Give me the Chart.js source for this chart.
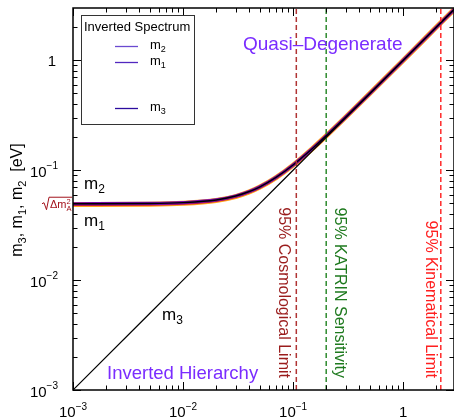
<!DOCTYPE html>
<html>
<head>
<meta charset="utf-8">
<script src="https://cdn.jsdelivr.net/npm/chart.js@4.4.0/dist/chart.umd.min.js"></script>
<style>
  html, body { margin: 0; padding: 0; background: #fff; overflow: hidden; }
  #massChart { display: block; }
</style>
</head>
<body>
<canvas id="massChart" width="454" height="420"></canvas>
<script>
// lightest mass m3 [eV] along the x axis
const lightestMass = [0.001, 0.005, 0.01, 0.02, 0.03, 0.04, 0.05, 0.07, 0.1, 0.15, 0.2, 0.3, 0.5, 1, 2, 2.9];
const m2Values = [0.0496, 0.0499, 0.0508, 0.0537, 0.0583, 0.0641, 0.0708, 0.0862, 0.1118, 0.158, 0.206, 0.304, 0.502, 1.0, 2.0, 2.9];
const m1Values = [0.0488, 0.0491, 0.0500, 0.0530, 0.0576, 0.0635, 0.0703, 0.0857, 0.1114, 0.1578, 0.2058, 0.3039, 0.5019, 1.0, 2.0, 2.9];
const m3Values = [0.001, 0.005, 0.01, 0.02, 0.03, 0.04, 0.05, 0.07, 0.1, 0.15, 0.2, 0.3, 0.5, 1, 2, 2.9];

// vertical limits [eV]
const limitNames = ['95% Cosmological Limit', '95% KATRIN Sensitivity', '95% Kinematical Limit'];
const limitValues = [0.107, 0.2, 2.2];

// axes
const xRange = [0.001, 2.9];
const yRange = [0.001, 3];
const decadeTicks = [0.001, 0.01, 0.1, 1];
const decadeExponents = ['\u22123', '\u22122', '\u22121', ''];

const FONT = '"Liberation Sans", Arial, Helvetica, sans-serif';
const limitColors = ['#b03434', '#2f8a2f', '#ff2a2a'];
const limitTextColors = ['#9a1c1c', '#1f7a1f', '#ff2020'];
const limitTextOffset = [-13, 13, -10];
const purple = '#7a2cff';

function points(xs, ys) {
    return xs.map((x, i) => ({ x: x, y: ys[i] }));
}

function limitLine(i) {
    return {
        label: limitNames[i],
        data: [{ x: limitValues[i], y: yRange[0] }, { x: limitValues[i], y: yRange[1] }],
        borderColor: limitColors[i],
        borderWidth: 1.5,
        borderDash: [5, 3],
        pointRadius: 0,
        order: 5
    };
}

function minorTicks(lo, hi) {
    const out = [];
    for (let d = -4; d <= 1; d++) {
        for (let k = 2; k <= 9; k++) {
            const v = k * Math.pow(10, d);
            if (v > lo && v < hi) out.push(v);
        }
    }
    return out;
}

// text with a sub- or superscript part
function drawScripted(ctx, base, script, x, y, size, scriptSize, shift, align) {
    ctx.font = size + 'px ' + FONT;
    const wb = ctx.measureText(base).width;
    ctx.font = scriptSize + 'px ' + FONT;
    const ws = ctx.measureText(script).width;
    let start = x;
    if (align === 'center') start = x - (wb + ws) / 2;
    if (align === 'right') start = x - (wb + ws);
    ctx.textAlign = 'left';
    ctx.textBaseline = 'alphabetic';
    ctx.font = size + 'px ' + FONT;
    ctx.fillText(base, start, y);
    ctx.font = scriptSize + 'px ' + FONT;
    ctx.fillText(script, start + wb, y + shift);
    return wb + ws;
}

const decorations = {
    id: 'decorations',
    afterDraw(chart) {
        const ctx = chart.ctx;
        const a = chart.chartArea;
        const xs = chart.scales.x;
        const ys = chart.scales.y;
        ctx.save();

        // frame
        ctx.strokeStyle = '#000';
        ctx.lineWidth = 1.5;
        ctx.strokeRect(a.left, a.top, a.right - a.left, a.bottom - a.top);

        // inward ticks on all sides
        ctx.lineWidth = 1;
        const tick = (v, len, horizontal) => {
            if (horizontal) {
                const px = Math.round(xs.getPixelForValue(v)) + 0.5;
                ctx.beginPath();
                ctx.moveTo(px, a.bottom); ctx.lineTo(px, a.bottom - len);
                ctx.moveTo(px, a.top); ctx.lineTo(px, a.top + len);
                ctx.stroke();
            } else {
                const py = Math.round(ys.getPixelForValue(v)) + 0.5;
                ctx.beginPath();
                ctx.moveTo(a.left, py); ctx.lineTo(a.left + len, py);
                ctx.moveTo(a.right, py); ctx.lineTo(a.right - len, py);
                ctx.stroke();
            }
        };
        decadeTicks.forEach(v => { tick(v, 8, true); tick(v, 8, false); });
        minorTicks(xRange[0], xRange[1]).forEach(v => tick(v, 4.5, true));
        minorTicks(yRange[0], yRange[1]).forEach(v => tick(v, 4.5, false));

        // tick labels
        ctx.fillStyle = '#000';
        decadeTicks.forEach((v, i) => {
            const px = xs.getPixelForValue(v);
            const py = ys.getPixelForValue(v);
            const exp = decadeExponents[i];
            if (exp) {
                drawScripted(ctx, '10', exp, px, a.bottom + 27, 15, 10, -7, 'center');
                drawScripted(ctx, '10', exp, 58, py + 7, 15, 10, -8, 'right');
            } else {
                drawScripted(ctx, '1', '', px, a.bottom + 27, 15, 10, 0, 'center');
                drawScripted(ctx, '1', '', 56, py + 6, 15, 10, 0, 'right');
            }
        });

        // y axis title
        ctx.save();
        ctx.translate(22, 200);
        ctx.rotate(-Math.PI / 2);
        ctx.font = '16px ' + FONT;
        let parts = [['m', '3', ', '], ['m', '1', ', '], ['m', '2', '  [eV]']];
        let total = 0;
        parts.forEach(p => {
            ctx.font = '16px ' + FONT; total += ctx.measureText(p[0] + p[2]).width;
            ctx.font = '11px ' + FONT; total += ctx.measureText(p[1]).width;
        });
        let cx = -total / 2;
        parts.forEach(p => {
            cx += drawScripted(ctx, p[0], p[1], cx, 0, 16, 11, 4, 'left');
            ctx.font = '16px ' + FONT;
            ctx.fillText(p[2], cx, 0);
            cx += ctx.measureText(p[2]).width;
        });
        ctx.restore();

        // sqrt(dm^2_A) marker at the plateau
        const yPlateau = ys.getPixelForValue(m2Values[0]);
        ctx.fillStyle = '#a3121c';
        ctx.strokeStyle = '#a3121c';
        ctx.lineWidth = 1;
        ctx.beginPath();
        ctx.moveTo(42, yPlateau);
        ctx.lineTo(44, yPlateau - 1);
        ctx.lineTo(46.5, yPlateau + 6);
        ctx.lineTo(49, yPlateau - 6.5);
        ctx.lineTo(72, yPlateau - 6.5);
        ctx.stroke();
        ctx.font = '11px ' + FONT;
        ctx.textAlign = 'left';
        ctx.fillText('\u0394m', 50, yPlateau + 4.5);
        const wdm = ctx.measureText('\u0394m').width;
        ctx.font = '7.5px ' + FONT;
        ctx.fillText('2', 50 + wdm, yPlateau + 0.5);
        ctx.fillText('A', 50 + wdm, yPlateau + 7.5);

        // curve labels
        ctx.fillStyle = '#000';
        drawScripted(ctx, 'm', '2', 84, 189, 17, 12, 4, 'left');
        drawScripted(ctx, 'm', '1', 84, 226, 17, 12, 4, 'left');
        drawScripted(ctx, 'm', '3', 162, 320, 17, 12, 4, 'left');

        // region labels
        ctx.fillStyle = purple;
        ctx.font = '19px ' + FONT;
        ctx.textAlign = 'left';
        ctx.fillText('Quasi\u2013Degenerate', 243, 50);
        ctx.font = '18.5px ' + FONT;
        ctx.fillText('Inverted Hierarchy', 107, 379);

        // limit labels, rotated
        limitNames.forEach((name, i) => {
            const px = xs.getPixelForValue(limitValues[i]) + limitTextOffset[i];
            ctx.save();
            ctx.translate(px, 378);
            ctx.rotate(Math.PI / 2);
            ctx.fillStyle = limitTextColors[i];
            ctx.font = '16px ' + FONT;
            ctx.textAlign = 'right';
            ctx.textBaseline = 'middle';
            ctx.fillText(name, 0, 0);
            ctx.restore();
        });

        // legend box
        ctx.fillStyle = '#fff';
        ctx.fillRect(81, 15, 113, 109);
        ctx.strokeStyle = '#333';
        ctx.lineWidth = 1;
        ctx.strokeRect(81.5, 15.5, 113, 109);
        ctx.fillStyle = '#000';
        ctx.font = '13px ' + FONT;
        ctx.textAlign = 'left';
        ctx.textBaseline = 'alphabetic';
        ctx.fillText('Inverted Spectrum', 84, 31);
        const legendItems = [['2', 46, '#6a4ad0'], ['1', 62, '#5228bf'], ['3', 108, '#2c0c9e']];
        legendItems.forEach(it => {
            ctx.strokeStyle = it[2];
            ctx.lineWidth = 1.3;
            ctx.beginPath();
            ctx.moveTo(115, it[1] + 0.5);
            ctx.lineTo(138, it[1] + 0.5);
            ctx.stroke();
            ctx.fillStyle = '#000';
            drawScripted(ctx, 'm', it[0], 150, it[1] + 3, 13, 9, 3, 'left');
        });

        ctx.restore();
    }
};

new Chart(document.getElementById('massChart'), {
    type: 'line',
    data: {
        datasets: [
            limitLine(0),
            limitLine(1),
            limitLine(2),
            {
                label: 'm3',
                data: points(lightestMass, m3Values),
                borderColor: '#000',
                borderWidth: 1.2,
                pointRadius: 0,
                order: 4
            },
            {
                label: 'm2',
                data: points(lightestMass, m2Values),
                borderColor: '#000',
                borderWidth: 1.4,
                pointRadius: 0,
                cubicInterpolationMode: 'monotone',
                order: 6
            },
            {
                label: 'm2 band',
                data: points(lightestMass, m2Values),
                borderColor: '#7a0aa8',
                borderWidth: 3.2,
                pointRadius: 0,
                cubicInterpolationMode: 'monotone',
                order: 7
            },
            {
                label: 'm1',
                data: points(lightestMass, m1Values),
                borderColor: '#d21f2a',
                borderWidth: 3,
                pointRadius: 0,
                cubicInterpolationMode: 'monotone',
                order: 8
            },
            {
                label: 'm1 band',
                data: points(lightestMass, m1Values),
                borderColor: '#ffa41c',
                borderWidth: 5,
                pointRadius: 0,
                cubicInterpolationMode: 'monotone',
                order: 9
            }
        ]
    },
    options: {
        responsive: false,
        animation: false,
        devicePixelRatio: 1,
        layout: { padding: { left: 73, top: 8, right: 0, bottom: 30 } },
        plugins: { legend: { display: false }, tooltip: { enabled: false } },
        scales: {
            x: { type: 'logarithmic', min: xRange[0], max: xRange[1], display: false },
            y: { type: 'logarithmic', min: yRange[0], max: yRange[1], display: false }
        }
    },
    plugins: [decorations]
});
</script>
</body>
</html>
